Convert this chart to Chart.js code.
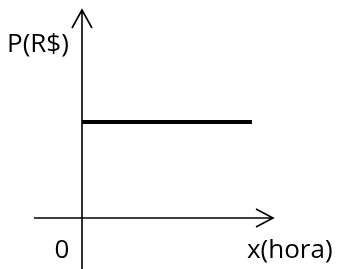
<!DOCTYPE html>
<html>
<head>
<meta charset="utf-8">
<script src="https://cdn.jsdelivr.net/npm/chart.js@4"></script>
<style>
  html, body { margin: 0; padding: 0; background: #fff; }
  #wrap { width: 339px; height: 269px; }
</style>
</head>
<body>
<div id="wrap"><canvas id="grafico" width="339" height="269"></canvas></div>
<script>
// Dados do gráfico (preço constante ao longo das horas)
const horas = [0, 1];
const precos = [1, 1];
const rotuloY = 'P(R$)';
const rotuloX = 'x(hora)';
const rotuloOrigem = '0';

// Eixos com setas, desenhados a partir das escalas do próprio Chart.js
const eixosPlugin = {
    id: 'eixos',
    afterDraw(chart) {
        const ctx = chart.ctx;
        const xs = chart.scales.x;
        const ys = chart.scales.y;
        const area = chart.chartArea;
        const x0 = xs.getPixelForValue(0);
        const y0 = ys.getPixelForValue(0);

        ctx.save();
        ctx.strokeStyle = '#000';
        ctx.lineWidth = 1.6;

        // eixo y
        ctx.beginPath();
        ctx.moveTo(x0, area.bottom);
        ctx.lineTo(x0, area.top);
        ctx.moveTo(x0 - 10, area.top + 18);
        ctx.lineTo(x0, area.top);
        ctx.lineTo(x0 + 10, area.top + 18);
        ctx.stroke();

        // eixo x
        ctx.beginPath();
        ctx.moveTo(area.left, y0);
        ctx.lineTo(area.right, y0);
        ctx.moveTo(area.right - 17, y0 - 9);
        ctx.lineTo(area.right, y0);
        ctx.lineTo(area.right - 17, y0 + 9);
        ctx.stroke();

        // textos
        ctx.fillStyle = '#000';
        ctx.font = '26px "Open Sans"';
        ctx.textBaseline = 'alphabetic';
        ctx.textAlign = 'left';
        ctx.fillText(rotuloY, 7, 52);
        ctx.fillText(rotuloX, 247, 258);
        ctx.textAlign = 'center';
        ctx.fillText(rotuloOrigem, 62, 258);
        ctx.restore();
    }
};

const ctxGrafico = document.getElementById('grafico').getContext('2d');
const grafico = new Chart(ctxGrafico, {
    type: 'scatter',
    data: {
        datasets: [{
            data: horas.map((h, i) => ({ x: h, y: precos[i] })),
            showLine: true,
            borderColor: '#000',
            borderWidth: 4,
            pointRadius: 0,
            fill: false
        }]
    },
    options: {
        responsive: false,
        animation: false,
        layout: { padding: { left: 34, right: 66, top: 10, bottom: 0 } },
        plugins: { legend: { display: false }, tooltip: { enabled: false } },
        scales: {
            x: { type: 'linear', display: false, min: -0.2824, max: 1.124 },
            y: { type: 'linear', display: false, min: -0.53125, max: 2.1667 }
        }
    },
    plugins: [eixosPlugin]
});
</script>
</body>
</html>
